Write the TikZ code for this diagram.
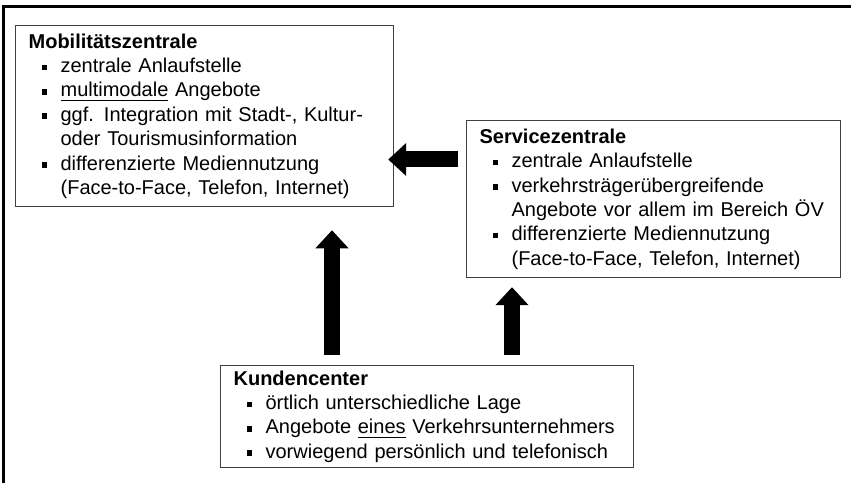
\documentclass[tikz,border=0pt]{standalone}
\usepackage{fontspec}
\setmainfont{Liberation Sans}
\usetikzlibrary{
  positioning,
  arrows.meta
}
\usepackage{xcolor}
\definecolor{frame}{HTML}{404040}

% square bullet and hanging indent for the lists
\newcommand{\bul}{\hspace*{6.5pt}\rule[1.2pt]{2.8pt}{2.8pt}\hspace*{6.7pt}}
\newcommand{\ind}{\hspace*{16pt}}

\begin{document}
\begin{tikzpicture}[
  box/.style={draw=frame, line width=0.6pt, anchor=north west, align=left,
    inner xsep=6.5pt, inner ysep=4pt, font=\fontsize{10}{12.2}\selectfont},
  blockarr/.style={line width=8pt, -{Triangle[width=16pt, length=9pt]}},
]
  \useasboundingbox (0, 0) rectangle (14.955, 8.488);
  \draw[line width=1.5pt] (0.062, -0.1) -- (0.062, 8.382) -- (15.1, 8.382);

  % Mobility centre
  \node[box, text width=176pt, minimum height=90.5pt] (mob) at (0.264, 8.048) {%
    \textbf{Mobilitätszentrale}\\
    \bul zentrale Anlaufstelle\\
    \bul \underline{multimodale} Angebote\\
    \bul ggf. Integration mit Stadt-, Kultur-\\
    \ind oder Tourismusinformation\\
    \bul differenzierte Mediennutzung\\
    \ind (Face-to-Face, Telefon, Internet)};

  % Service centre
  \node[box, text width=174pt, minimum height=78.5pt] (service) at (8.189, 6.379) {%
    \textbf{Servicezentrale}\\
    \bul zentrale Anlaufstelle\\
    \bul verkehrsträgerübergreifende\\
    \ind \mbox{Angebote vor allem im Bereich ÖV}\\
    \bul differenzierte Mediennutzung\\
    \ind (Face-to-Face, Telefon, Internet)};

  % Customer centre
  \node[box, text width=193.5pt, minimum height=51pt, inner ysep=2.5pt] (kunden) at (3.866, 2.074) {%
    \textbf{Kundencenter}\\
    \bul örtlich unterschiedliche Lage\\
    \bul Angebote \underline{eines} Verkehrsunternehmers\\
    \bul vorwiegend persönlich und telefonisch};

  % Arrows
  \draw[blockarr, shorten <=4pt, shorten >=-3pt]
    ([yshift=-19.75pt]service.north west) -- ([yshift=-19.75pt]service.north west -| mob.east);
  \draw[blockarr, shorten <=5pt, shorten >=11.5pt]
    ([xshift=56pt]kunden.north west) -- ([xshift=56pt]kunden.north west |- mob.south);
  \draw[blockarr, shorten <=5pt, shorten >=4.5pt]
    ([xshift=146pt]kunden.north west) -- ([xshift=146pt]kunden.north west |- service.south);
\end{tikzpicture}
\end{document}
